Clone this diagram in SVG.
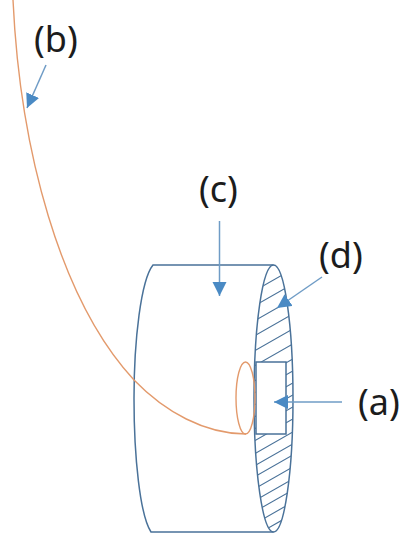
<svg xmlns="http://www.w3.org/2000/svg" width="402" height="536" viewBox="0 0 402 536">
<style>
.b{fill:none;stroke:#4a7299;stroke-width:1.5}
.h{fill:none;stroke:#4a7299;stroke-width:1.1}
.o{fill:none;stroke:#e39a6c;stroke-width:1.4}
.a{fill:none;stroke:#6f9cc6;stroke-width:1.5;marker-end:url(#m)}
text{font-family:"Noto Sans","Open Sans",sans-serif;font-size:36px;fill:#1c1c1c}
</style>
<defs>
<marker id="m" markerUnits="userSpaceOnUse" markerWidth="16" markerHeight="16" refX="14" refY="7" orient="auto"><path d="M0 0L14 7L0 14Z" fill="#4a8ac4"/></marker>
<clipPath id="c"><path clip-rule="evenodd" d="M273.500 265A19.500 133.500 0 0 1 273.500 532A19.500 133.500 0 0 1 273.500 265ZM256 362V434H286V362Z"/></clipPath>
</defs>
<rect width="402" height="536" fill="#fff"/>
<g id="drum">
<path class="b" d="M273.500 265H153C141 280 134 340 134 398.500C134 457 140 515 151 532H273.500"/>
<ellipse class="b" cx="273.500" cy="398.500" rx="19.500" ry="133.500"/>
</g>
<g id="hatch" clip-path="url(#c)">
<path class="h" d="M240 299L300 265M240 314L300 280M240 329L300 295M240 344L300 310M240 359L300 325M240 374L300 340M240 389L300 355M240 401L300 367M240 413L300 379M240 425L300 391M240 437L300 403M240 449L300 415M240 462L300 428M240 474L300 440M240 485L300 451M240 497L300 463M240 509L300 475M240 520L300 486M240 532L300 498M240 544L300 510"/>
</g>
<g id="slot"><rect class="b" x="256" y="362" width="30" height="72" fill="#fff"/></g>
<g id="fiber">
<path class="o" d="M13 0C20 150 60 300 134 380C165 412 205 434 246 434"/>
<ellipse class="o" cx="245.500" cy="398" rx="9.500" ry="36"/>
</g>
<g id="connectors">
<path class="a" d="M46 65L27 108"/>
<path class="a" d="M219.500 221V296"/>
<path class="a" d="M322 277L277 308"/>
<path class="a" d="M342 402L274 402"/>
</g>
<g id="label-b"><text x="34" y="52">(b)</text></g>
<g id="label-c"><text x="199" y="202">(c)</text></g>
<g id="label-d"><text x="319" y="268">(d)</text></g>
<g id="label-a"><text x="358" y="415">(a)</text></g>
</svg>
